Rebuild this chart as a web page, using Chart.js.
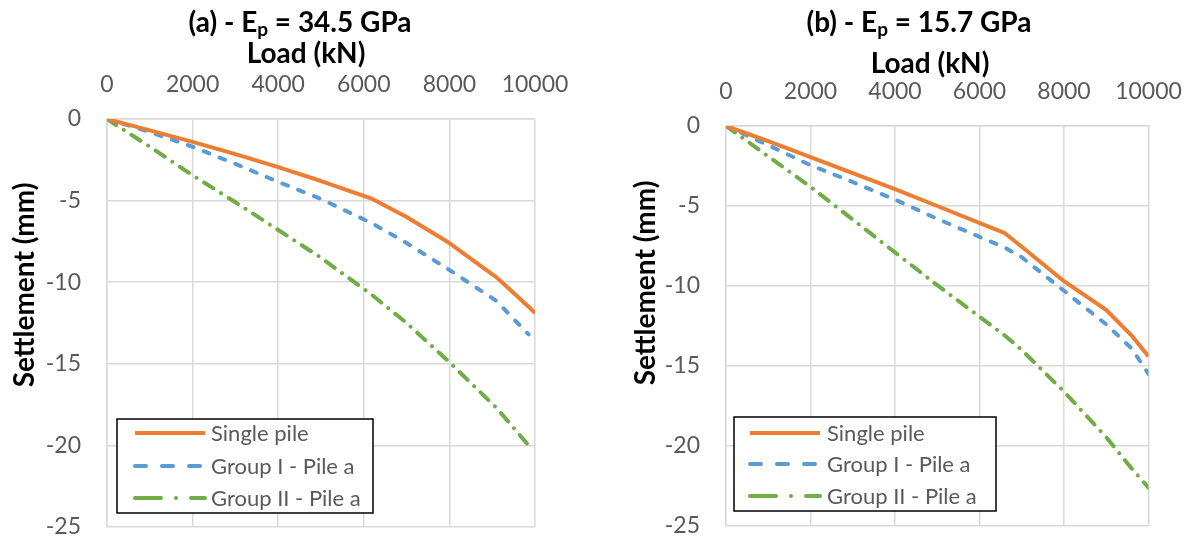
<!DOCTYPE html>
<html><head><meta charset="utf-8">
<script src="https://cdn.jsdelivr.net/npm/chart.js@4.4.1/dist/chart.umd.min.js"></script>
<style>
html,body{margin:0;padding:0;background:#fff;}
#wrap{position:relative;width:1191px;height:537px;overflow:hidden;}
.panel{position:absolute;top:0;height:537px;}
</style></head><body>
<div id="wrap">
<div class="panel" style="left:0;width:595px"><canvas id="ca"></canvas></div>
<div class="panel" style="left:595px;width:596px"><canvas id="cb"></canvas></div>
</div>
<script>
// ---------- data ----------
const seriesNames = ['Single pile', 'Group I - Pile a', 'Group II - Pile a'];
const loadTicks = [0, 2000, 4000, 6000, 8000, 10000];
const settlementTicks = [-25, -20, -15, -10, -5, 0];

// Panel (a) Ep = 34.5 GPa
const loadsA   = [0, 1000, 2000, 3000, 4000, 5000, 6200, 7000, 8000, 9100, 9850, 10000];
const singleA  = [0, -0.7, -1.4, -2.15, -2.95, -3.8, -4.9, -6.0, -7.6, -9.7, -11.5, -11.9];
const groupIA  = [0, -0.8, -1.7, -2.75, -3.85, -4.9, -6.4, -7.6, -9.25, -11.15, -13.2, null];
const groupIIA = [0, -1.7, -3.45, -5.1, -6.8, -8.5, -10.8, -12.5, -14.9, -17.7, -20.0, null];

// Panel (b) Ep = 15.7 GPa
const loadsB   = [0, 1000, 2000, 3000, 4000, 5000, 6600, 7000, 8000, 9000, 9600, 10000];
const singleB  = [0, -0.95, -1.95, -2.95, -3.95, -5.0, -6.7, -7.55, -9.7, -11.5, -13.1, -14.4];
const groupIB  = [0, -1.2, -2.45, -3.5, -4.6, -5.8, -7.6, -8.2, -10.3, -12.4, -13.9, -15.5];
const groupIIB = [0, -1.9, -3.8, -5.85, -7.9, -9.95, -13.1, -14.0, -16.6, -19.45, -21.4, -22.6];

// ---------- styling ----------
const FONT = 'Lato, "Open Sans", sans-serif';
const COLORS = ['#ED7D31', '#5B9BD5', '#70AD47'];
const DASHES = [[], [6, 11], [11, 9, 0.01, 9]];
const LEGEND_DASHES = [[], [11, 16], [26, 15, 0.01, 15]];

function pts(xs, ys) { return xs.map((x, i) => ({ x: x, y: ys[i] })); }

function datasets(xs, s1, s2, s3) {
  return [s1, s2, s3].map((ys, i) => ({
    label: seriesNames[i],
    data: pts(xs, ys),
    borderColor: COLORS[i],
    backgroundColor: COLORS[i],
    borderWidth: 4,
    borderDash: DASHES[i],
    borderCapStyle: i === 0 ? 'butt' : 'round',
    borderJoinStyle: 'round',
    pointRadius: 0,
    tension: 0,
    spanGaps: false,
    fill: false
  }));
}

const decor = {
  id: 'decor',
  afterDraw(chart, args, o) {
    const ctx = chart.ctx;
    ctx.save();
    ctx.fillStyle = '#000';
    // main title with subscript
    const big = 'bold 28px ' + FONT, sub = 'bold 19px ' + FONT;
    ctx.font = big; const w1 = ctx.measureText(o.t1).width, w3 = ctx.measureText(o.t3).width;
    ctx.font = sub; const w2 = ctx.measureText(o.t2).width;
    let x = o.titleX - (w1 + w2 + w3) / 2;
    ctx.textBaseline = 'alphabetic'; ctx.textAlign = 'left';
    ctx.font = big; ctx.fillText(o.t1, x, o.titleY); x += w1;
    ctx.font = sub; ctx.fillText(o.t2, x, o.titleY + 4); x += w2;
    ctx.font = big; ctx.fillText(o.t3, x, o.titleY);
    // x-axis title
    ctx.textAlign = 'center';
    ctx.font = big; ctx.fillText(o.xTitle, o.xTitleX, o.xTitleY);
    // y-axis title
    ctx.save();
    ctx.translate(o.yTitleX, o.yTitleY); ctx.rotate(-Math.PI / 2);
    ctx.fillText(o.yTitle, 0, 0);
    ctx.restore();
    // legend
    const L = o.legend;
    ctx.fillStyle = '#fff';
    ctx.fillRect(L.x, L.y, L.w, L.h);
    ctx.strokeStyle = '#000'; ctx.lineWidth = 1.5;
    ctx.strokeRect(L.x, L.y, L.w, L.h);
    chart.data.datasets.forEach((ds, i) => {
      const yy = L.rows[i];
      ctx.beginPath();
      ctx.strokeStyle = ds.borderColor; ctx.lineWidth = 4;
      ctx.lineCap = ds.borderCapStyle; ctx.setLineDash(LEGEND_DASHES[i]);
      ctx.moveTo(L.lx1, yy); ctx.lineTo(L.lx2, yy); ctx.stroke();
      ctx.setLineDash([]);
      ctx.fillStyle = '#595959'; ctx.font = '22px ' + FONT;
      ctx.textAlign = 'left'; ctx.textBaseline = 'middle';
      ctx.fillText(ds.label, L.tx, yy + 1);
    });
    ctx.restore();
  }
};

function makeChart(id, xs, s1, s2, s3, p) {
  return new Chart(document.getElementById(id), {
    type: 'line',
    data: { datasets: datasets(xs, s1, s2, s3) },
    plugins: [decor],
    options: {
      responsive: true, maintainAspectRatio: false, animation: false,
      events: [],
      layout: { padding: { left: 0, top: 0, right: p.right, bottom: p.bottom } },
      plugins: { legend: { display: false }, title: { display: false }, tooltip: { enabled: false },
        decor: p.decor },
      scales: {
        x: {
          type: 'linear', position: 'top', min: 0, max: 10000,
          afterBuildTicks: s => { s.ticks = loadTicks.map(v => ({ value: v })); },
          afterFit: s => { s.height = p.top; s.paddingLeft = 0; s.paddingRight = 0; },
          grid: { color: '#d9d9d9', lineWidth: 1.5, drawTicks: false },
          border: { color: '#d9d9d9', width: 1.5 },
          ticks: { color: '#595959', font: { family: FONT, size: 23 }, padding: 21, maxRotation: 0, autoSkip: false,
            callback: v => String(v) }
        },
        y: {
          type: 'linear', min: -25, max: 0,
          afterBuildTicks: s => { s.ticks = settlementTicks.map(v => ({ value: v })); },
          afterFit: s => { s.width = p.left; s.paddingTop = 0; s.paddingBottom = 0; },
          grid: { color: '#d9d9d9', lineWidth: 1.5, drawTicks: false },
          border: { color: '#d9d9d9', width: 1.5 },
          ticks: { color: '#595959', font: { family: FONT, size: 23 }, padding: 26, autoSkip: false,
            callback: v => String(v) }
        }
      }
    }
  });
}

makeChart('ca', loadsA, singleA, groupIA, groupIIA, {
  left: 107, top: 119, right: 60, bottom: 10,
  decor: {
    t1: '(a) - E', t2: 'p', t3: ' = 34.5 GPa', titleX: 300, titleY: 32,
    xTitle: 'Load (kN)', xTitleX: 306, xTitleY: 63,
    yTitle: 'Settlement (mm)', yTitleX: 34, yTitleY: 285,
    legend: { x: 117, y: 419, w: 256, h: 94, rows: [433, 466, 498], lx1: 135, lx2: 205, tx: 211 }
  }
});

makeChart('cb', loadsB, singleB, groupIB, groupIIB, {
  left: 131, top: 126, right: 42.5, bottom: 11,
  decor: {
    t1: '(b) - E', t2: 'p', t3: ' = 15.7 GPa', titleX: 324, titleY: 32,
    xTitle: 'Load (kN)', xTitleX: 335, xTitleY: 73,
    yTitle: 'Settlement (mm)', yTitleX: 60, yTitleY: 283,
    legend: { x: 139, y: 417, w: 262, h: 94, rows: [433, 464, 496], lx1: 155, lx2: 225, tx: 232 }
  }
});
</script>
</body></html>
